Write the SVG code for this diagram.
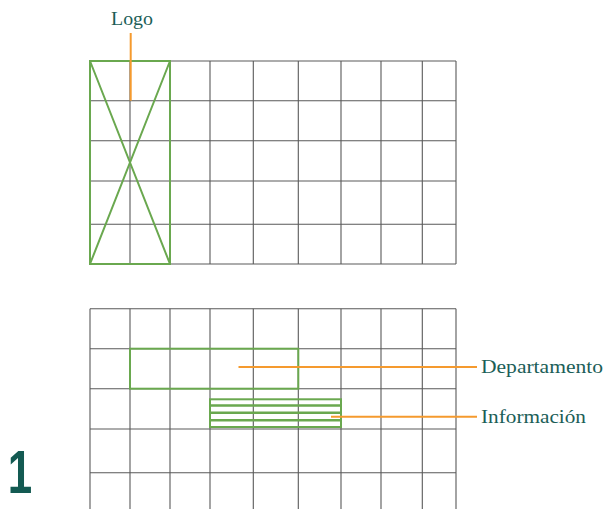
<svg xmlns="http://www.w3.org/2000/svg" width="607" height="509" viewBox="0 0 607 509">
<defs>
<style>
.grid{stroke:#5a5a5a;stroke-width:1.1;fill:none}
.green{stroke:#6aa84f;stroke-width:2;fill:none}
.orange{stroke:#f59a2e;stroke-width:2;fill:none}
.lbl{font-family:"Liberation Serif",serif;font-size:19.5px;fill:#1b5e57}
</style>
</defs>
<rect width="607" height="509" fill="#fff"/>
<g id="grid-top" class="grid">
<path d="M90,61H456M90,100.7H456M90,140.7H456M90,181H456M90,224.3H456M90,264H456"/>
<path d="M90,61V264M130,61V264M170,61V264M210,61V264M253.3,61V264M298.3,61V264M341,61V264M381,61V264M422.3,61V264M456,61V264"/>
</g>
<g id="grid-bottom" class="grid">
<path d="M90,308.7H456M90,348.7H456M90,388.7H456M90,429H456M90,472.7H456"/>
<path d="M90,308.7V509M130,308.7V509M170,308.7V509M210,308.7V509M253.3,308.7V509M298.3,308.7V509M341,308.7V509M381,308.7V509M422.3,308.7V509M456,308.7V509"/>
</g>
<g id="logo-box" class="green">
<rect x="90" y="61" width="80" height="203"/>
<path d="M90,61L170,264M170,61L90,264"/>
</g>
<g id="departamento-box" class="green">
<rect x="130" y="348.7" width="168.3" height="40"/>
</g>
<g id="informacion-box" class="green">
<rect x="210" y="399.3" width="131" height="27.7"/>
<path d="M210,405.5H341M210,412.8H341M210,420.2H341" stroke-width="2.4"/>
</g>
<g id="connectors" class="orange">
<path d="M130.7,33V100.7"/>
<path d="M238.5,367H477"/>
<path d="M331,416.7H477"/>
</g>
<g id="labels">
<text class="lbl" x="111" y="24.5" textLength="42" lengthAdjust="spacingAndGlyphs">Logo</text>
<text class="lbl" x="481" y="373.3" textLength="122" lengthAdjust="spacingAndGlyphs">Departamento</text>
<text class="lbl" x="481" y="423.3" textLength="105" lengthAdjust="spacingAndGlyphs">Información</text>
</g>
<g id="number">
<text x="0" y="0" transform="translate(20,493) scale(0.72,1)" text-anchor="middle" font-family="'Liberation Sans',sans-serif" font-weight="bold" font-size="61" fill="#135a52">1</text>
</g>
</svg>
